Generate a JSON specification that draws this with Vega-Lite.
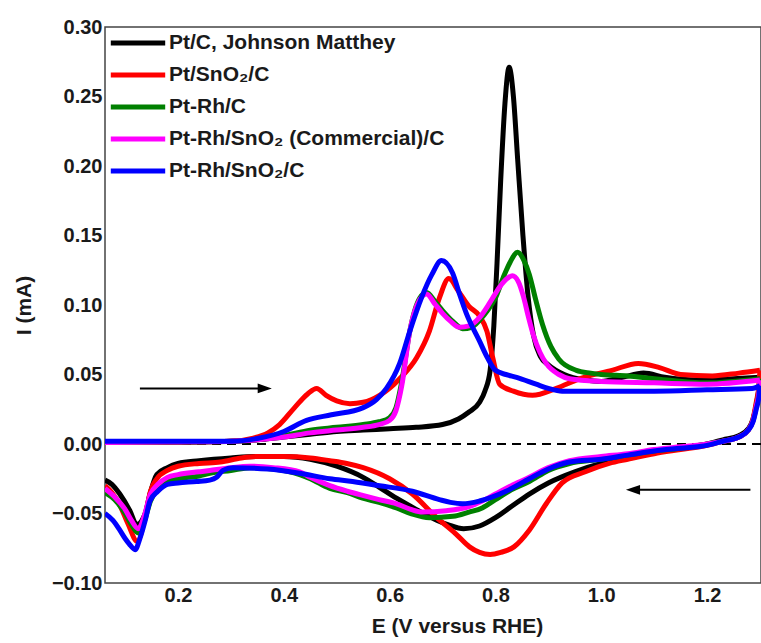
{
  "$schema": "https://vega.github.io/schema/vega-lite/v6.json",
  "autosize": {"type": "none"},
  "padding": {"left": 105, "top": 27, "right": 0, "bottom": 60},
  "width": 656,
  "height": 556,
  "background": "white",
  "config": {
    "view": {"stroke": "#444", "strokeWidth": 1.5},
    "font": "Liberation Sans",
    "axis": {
      "labelFont": "Liberation Sans", "labelFontWeight": "bold", "labelFontSize": 20, "labelColor": "#1a1a1a",
      "titleFont": "Liberation Sans", "titleFontWeight": "bold", "titleFontSize": 21, "titleColor": "#1a1a1a",
      "grid": false, "ticks": false, "domain": false
    },
    "legend": {
      "labelFont": "Liberation Sans", "labelFontWeight": "bold", "labelFontSize": 21, "labelColor": "#1a1a1a",
      "padding": 0, "labelLimit": 0
    }
  },
  "datasets": {
    "cv": [
      {"s":"Pt/C, Johnson Matthey","b":"a","x":0.062,"y":0.001},
      {"s":"Pt/C, Johnson Matthey","b":"a","x":0.15,"y":0.001},
      {"s":"Pt/C, Johnson Matthey","b":"a","x":0.25,"y":0.0015},
      {"s":"Pt/C, Johnson Matthey","b":"a","x":0.3,"y":0.002},
      {"s":"Pt/C, Johnson Matthey","b":"a","x":0.35,"y":0.003},
      {"s":"Pt/C, Johnson Matthey","b":"a","x":0.4,"y":0.005},
      {"s":"Pt/C, Johnson Matthey","b":"a","x":0.45,"y":0.007},
      {"s":"Pt/C, Johnson Matthey","b":"a","x":0.5,"y":0.009},
      {"s":"Pt/C, Johnson Matthey","b":"a","x":0.55,"y":0.010},
      {"s":"Pt/C, Johnson Matthey","b":"a","x":0.6,"y":0.011},
      {"s":"Pt/C, Johnson Matthey","b":"a","x":0.65,"y":0.012},
      {"s":"Pt/C, Johnson Matthey","b":"a","x":0.7,"y":0.014},
      {"s":"Pt/C, Johnson Matthey","b":"a","x":0.73,"y":0.018},
      {"s":"Pt/C, Johnson Matthey","b":"a","x":0.75,"y":0.023},
      {"s":"Pt/C, Johnson Matthey","b":"a","x":0.77,"y":0.030},
      {"s":"Pt/C, Johnson Matthey","b":"a","x":0.78,"y":0.038},
      {"s":"Pt/C, Johnson Matthey","b":"a","x":0.79,"y":0.053},
      {"s":"Pt/C, Johnson Matthey","b":"a","x":0.797,"y":0.085},
      {"s":"Pt/C, Johnson Matthey","b":"a","x":0.803,"y":0.13},
      {"s":"Pt/C, Johnson Matthey","b":"a","x":0.81,"y":0.19},
      {"s":"Pt/C, Johnson Matthey","b":"a","x":0.818,"y":0.245},
      {"s":"Pt/C, Johnson Matthey","b":"a","x":0.826,"y":0.271},
      {"s":"Pt/C, Johnson Matthey","b":"a","x":0.834,"y":0.25},
      {"s":"Pt/C, Johnson Matthey","b":"a","x":0.842,"y":0.205},
      {"s":"Pt/C, Johnson Matthey","b":"a","x":0.852,"y":0.15},
      {"s":"Pt/C, Johnson Matthey","b":"a","x":0.862,"y":0.105},
      {"s":"Pt/C, Johnson Matthey","b":"a","x":0.872,"y":0.078},
      {"s":"Pt/C, Johnson Matthey","b":"a","x":0.885,"y":0.063},
      {"s":"Pt/C, Johnson Matthey","b":"a","x":0.9,"y":0.057},
      {"s":"Pt/C, Johnson Matthey","b":"a","x":0.93,"y":0.050},
      {"s":"Pt/C, Johnson Matthey","b":"a","x":0.97,"y":0.046},
      {"s":"Pt/C, Johnson Matthey","b":"a","x":1.0,"y":0.045},
      {"s":"Pt/C, Johnson Matthey","b":"a","x":1.04,"y":0.048},
      {"s":"Pt/C, Johnson Matthey","b":"a","x":1.08,"y":0.051},
      {"s":"Pt/C, Johnson Matthey","b":"a","x":1.12,"y":0.048},
      {"s":"Pt/C, Johnson Matthey","b":"a","x":1.18,"y":0.046},
      {"s":"Pt/C, Johnson Matthey","b":"a","x":1.25,"y":0.047},
      {"s":"Pt/C, Johnson Matthey","b":"a","x":1.3,"y":0.048},
      {"s":"Pt/C, Johnson Matthey","b":"c","x":1.3,"y":0.048},
      {"s":"Pt/C, Johnson Matthey","b":"c","x":1.298,"y":0.040},
      {"s":"Pt/C, Johnson Matthey","b":"c","x":1.293,"y":0.028},
      {"s":"Pt/C, Johnson Matthey","b":"c","x":1.287,"y":0.018},
      {"s":"Pt/C, Johnson Matthey","b":"c","x":1.278,"y":0.011},
      {"s":"Pt/C, Johnson Matthey","b":"c","x":1.26,"y":0.006},
      {"s":"Pt/C, Johnson Matthey","b":"c","x":1.23,"y":0.003},
      {"s":"Pt/C, Johnson Matthey","b":"c","x":1.2,"y":0.0},
      {"s":"Pt/C, Johnson Matthey","b":"c","x":1.15,"y":-0.003},
      {"s":"Pt/C, Johnson Matthey","b":"c","x":1.1,"y":-0.006},
      {"s":"Pt/C, Johnson Matthey","b":"c","x":1.05,"y":-0.010},
      {"s":"Pt/C, Johnson Matthey","b":"c","x":1.0,"y":-0.014},
      {"s":"Pt/C, Johnson Matthey","b":"c","x":0.95,"y":-0.020},
      {"s":"Pt/C, Johnson Matthey","b":"c","x":0.9,"y":-0.028},
      {"s":"Pt/C, Johnson Matthey","b":"c","x":0.864,"y":-0.036},
      {"s":"Pt/C, Johnson Matthey","b":"c","x":0.83,"y":-0.045},
      {"s":"Pt/C, Johnson Matthey","b":"c","x":0.8,"y":-0.053},
      {"s":"Pt/C, Johnson Matthey","b":"c","x":0.77,"y":-0.059},
      {"s":"Pt/C, Johnson Matthey","b":"c","x":0.74,"y":-0.061},
      {"s":"Pt/C, Johnson Matthey","b":"c","x":0.71,"y":-0.058},
      {"s":"Pt/C, Johnson Matthey","b":"c","x":0.69,"y":-0.055},
      {"s":"Pt/C, Johnson Matthey","b":"c","x":0.65,"y":-0.047},
      {"s":"Pt/C, Johnson Matthey","b":"c","x":0.613,"y":-0.039},
      {"s":"Pt/C, Johnson Matthey","b":"c","x":0.58,"y":-0.031},
      {"s":"Pt/C, Johnson Matthey","b":"c","x":0.55,"y":-0.024},
      {"s":"Pt/C, Johnson Matthey","b":"c","x":0.5,"y":-0.016},
      {"s":"Pt/C, Johnson Matthey","b":"c","x":0.45,"y":-0.011},
      {"s":"Pt/C, Johnson Matthey","b":"c","x":0.4,"y":-0.009},
      {"s":"Pt/C, Johnson Matthey","b":"c","x":0.35,"y":-0.009},
      {"s":"Pt/C, Johnson Matthey","b":"c","x":0.3,"y":-0.010},
      {"s":"Pt/C, Johnson Matthey","b":"c","x":0.24,"y":-0.012},
      {"s":"Pt/C, Johnson Matthey","b":"c","x":0.2,"y":-0.014},
      {"s":"Pt/C, Johnson Matthey","b":"c","x":0.18,"y":-0.017},
      {"s":"Pt/C, Johnson Matthey","b":"c","x":0.16,"y":-0.022},
      {"s":"Pt/C, Johnson Matthey","b":"c","x":0.147,"y":-0.036},
      {"s":"Pt/C, Johnson Matthey","b":"c","x":0.138,"y":-0.050},
      {"s":"Pt/C, Johnson Matthey","b":"c","x":0.122,"y":-0.058},
      {"s":"Pt/C, Johnson Matthey","b":"c","x":0.109,"y":-0.048},
      {"s":"Pt/C, Johnson Matthey","b":"c","x":0.09,"y":-0.036},
      {"s":"Pt/C, Johnson Matthey","b":"c","x":0.075,"y":-0.029},
      {"s":"Pt/C, Johnson Matthey","b":"c","x":0.062,"y":-0.026},

      {"s":"Pt/SnO₂/C","b":"a","x":0.062,"y":0.001},
      {"s":"Pt/SnO₂/C","b":"a","x":0.2,"y":0.0015},
      {"s":"Pt/SnO₂/C","b":"a","x":0.3,"y":0.002},
      {"s":"Pt/SnO₂/C","b":"a","x":0.34,"y":0.004},
      {"s":"Pt/SnO₂/C","b":"a","x":0.37,"y":0.008},
      {"s":"Pt/SnO₂/C","b":"a","x":0.392,"y":0.014},
      {"s":"Pt/SnO₂/C","b":"a","x":0.42,"y":0.026},
      {"s":"Pt/SnO₂/C","b":"a","x":0.445,"y":0.036},
      {"s":"Pt/SnO₂/C","b":"a","x":0.462,"y":0.040},
      {"s":"Pt/SnO₂/C","b":"a","x":0.48,"y":0.035},
      {"s":"Pt/SnO₂/C","b":"a","x":0.5,"y":0.031},
      {"s":"Pt/SnO₂/C","b":"a","x":0.525,"y":0.029},
      {"s":"Pt/SnO₂/C","b":"a","x":0.55,"y":0.030},
      {"s":"Pt/SnO₂/C","b":"a","x":0.581,"y":0.035},
      {"s":"Pt/SnO₂/C","b":"a","x":0.619,"y":0.047},
      {"s":"Pt/SnO₂/C","b":"a","x":0.651,"y":0.062},
      {"s":"Pt/SnO₂/C","b":"a","x":0.675,"y":0.081},
      {"s":"Pt/SnO₂/C","b":"a","x":0.694,"y":0.105},
      {"s":"Pt/SnO₂/C","b":"a","x":0.712,"y":0.119},
      {"s":"Pt/SnO₂/C","b":"a","x":0.73,"y":0.110},
      {"s":"Pt/SnO₂/C","b":"a","x":0.75,"y":0.099},
      {"s":"Pt/SnO₂/C","b":"a","x":0.77,"y":0.092},
      {"s":"Pt/SnO₂/C","b":"a","x":0.784,"y":0.081},
      {"s":"Pt/SnO₂/C","b":"a","x":0.795,"y":0.062},
      {"s":"Pt/SnO₂/C","b":"a","x":0.808,"y":0.043},
      {"s":"Pt/SnO₂/C","b":"a","x":0.834,"y":0.038},
      {"s":"Pt/SnO₂/C","b":"a","x":0.87,"y":0.035},
      {"s":"Pt/SnO₂/C","b":"a","x":0.915,"y":0.040},
      {"s":"Pt/SnO₂/C","b":"a","x":0.96,"y":0.047},
      {"s":"Pt/SnO₂/C","b":"a","x":1.02,"y":0.053},
      {"s":"Pt/SnO₂/C","b":"a","x":1.07,"y":0.058},
      {"s":"Pt/SnO₂/C","b":"a","x":1.11,"y":0.055},
      {"s":"Pt/SnO₂/C","b":"a","x":1.15,"y":0.050},
      {"s":"Pt/SnO₂/C","b":"a","x":1.21,"y":0.049},
      {"s":"Pt/SnO₂/C","b":"a","x":1.26,"y":0.051},
      {"s":"Pt/SnO₂/C","b":"a","x":1.3,"y":0.053},
      {"s":"Pt/SnO₂/C","b":"c","x":1.3,"y":0.053},
      {"s":"Pt/SnO₂/C","b":"c","x":1.298,"y":0.042},
      {"s":"Pt/SnO₂/C","b":"c","x":1.293,"y":0.030},
      {"s":"Pt/SnO₂/C","b":"c","x":1.287,"y":0.018},
      {"s":"Pt/SnO₂/C","b":"c","x":1.278,"y":0.010},
      {"s":"Pt/SnO₂/C","b":"c","x":1.26,"y":0.005},
      {"s":"Pt/SnO₂/C","b":"c","x":1.23,"y":0.002},
      {"s":"Pt/SnO₂/C","b":"c","x":1.2,"y":-0.001},
      {"s":"Pt/SnO₂/C","b":"c","x":1.15,"y":-0.004},
      {"s":"Pt/SnO₂/C","b":"c","x":1.1,"y":-0.007},
      {"s":"Pt/SnO₂/C","b":"c","x":1.05,"y":-0.011},
      {"s":"Pt/SnO₂/C","b":"c","x":1.015,"y":-0.014},
      {"s":"Pt/SnO₂/C","b":"c","x":0.97,"y":-0.020},
      {"s":"Pt/SnO₂/C","b":"c","x":0.926,"y":-0.028},
      {"s":"Pt/SnO₂/C","b":"c","x":0.896,"y":-0.043},
      {"s":"Pt/SnO₂/C","b":"c","x":0.864,"y":-0.062},
      {"s":"Pt/SnO₂/C","b":"c","x":0.835,"y":-0.074},
      {"s":"Pt/SnO₂/C","b":"c","x":0.81,"y":-0.078},
      {"s":"Pt/SnO₂/C","b":"c","x":0.79,"y":-0.0795},
      {"s":"Pt/SnO₂/C","b":"c","x":0.77,"y":-0.078},
      {"s":"Pt/SnO₂/C","b":"c","x":0.751,"y":-0.074},
      {"s":"Pt/SnO₂/C","b":"c","x":0.726,"y":-0.065},
      {"s":"Pt/SnO₂/C","b":"c","x":0.689,"y":-0.053},
      {"s":"Pt/SnO₂/C","b":"c","x":0.643,"y":-0.036},
      {"s":"Pt/SnO₂/C","b":"c","x":0.6,"y":-0.025},
      {"s":"Pt/SnO₂/C","b":"c","x":0.55,"y":-0.017},
      {"s":"Pt/SnO₂/C","b":"c","x":0.519,"y":-0.014},
      {"s":"Pt/SnO₂/C","b":"c","x":0.487,"y":-0.012},
      {"s":"Pt/SnO₂/C","b":"c","x":0.45,"y":-0.010},
      {"s":"Pt/SnO₂/C","b":"c","x":0.4,"y":-0.009},
      {"s":"Pt/SnO₂/C","b":"c","x":0.35,"y":-0.009},
      {"s":"Pt/SnO₂/C","b":"c","x":0.32,"y":-0.010},
      {"s":"Pt/SnO₂/C","b":"c","x":0.28,"y":-0.013},
      {"s":"Pt/SnO₂/C","b":"c","x":0.24,"y":-0.014},
      {"s":"Pt/SnO₂/C","b":"c","x":0.2,"y":-0.016},
      {"s":"Pt/SnO₂/C","b":"c","x":0.18,"y":-0.019},
      {"s":"Pt/SnO₂/C","b":"c","x":0.16,"y":-0.025},
      {"s":"Pt/SnO₂/C","b":"c","x":0.148,"y":-0.034},
      {"s":"Pt/SnO₂/C","b":"c","x":0.138,"y":-0.052},
      {"s":"Pt/SnO₂/C","b":"c","x":0.123,"y":-0.070},
      {"s":"Pt/SnO₂/C","b":"c","x":0.105,"y":-0.057},
      {"s":"Pt/SnO₂/C","b":"c","x":0.09,"y":-0.044},
      {"s":"Pt/SnO₂/C","b":"c","x":0.075,"y":-0.035},
      {"s":"Pt/SnO₂/C","b":"c","x":0.062,"y":-0.030},

      {"s":"Pt-Rh/C","b":"a","x":0.062,"y":0.001},
      {"s":"Pt-Rh/C","b":"a","x":0.2,"y":0.0015},
      {"s":"Pt-Rh/C","b":"a","x":0.3,"y":0.002},
      {"s":"Pt-Rh/C","b":"a","x":0.35,"y":0.003},
      {"s":"Pt-Rh/C","b":"a","x":0.4,"y":0.006},
      {"s":"Pt-Rh/C","b":"a","x":0.45,"y":0.010},
      {"s":"Pt-Rh/C","b":"a","x":0.5,"y":0.012},
      {"s":"Pt-Rh/C","b":"a","x":0.55,"y":0.014},
      {"s":"Pt-Rh/C","b":"a","x":0.58,"y":0.016},
      {"s":"Pt-Rh/C","b":"a","x":0.6,"y":0.019},
      {"s":"Pt-Rh/C","b":"a","x":0.612,"y":0.026},
      {"s":"Pt-Rh/C","b":"a","x":0.623,"y":0.045},
      {"s":"Pt-Rh/C","b":"a","x":0.638,"y":0.081},
      {"s":"Pt-Rh/C","b":"a","x":0.657,"y":0.105},
      {"s":"Pt-Rh/C","b":"a","x":0.67,"y":0.109},
      {"s":"Pt-Rh/C","b":"a","x":0.685,"y":0.103},
      {"s":"Pt-Rh/C","b":"a","x":0.70,"y":0.096},
      {"s":"Pt-Rh/C","b":"a","x":0.72,"y":0.088},
      {"s":"Pt-Rh/C","b":"a","x":0.738,"y":0.083},
      {"s":"Pt-Rh/C","b":"a","x":0.755,"y":0.084},
      {"s":"Pt-Rh/C","b":"a","x":0.77,"y":0.089},
      {"s":"Pt-Rh/C","b":"a","x":0.785,"y":0.096},
      {"s":"Pt-Rh/C","b":"a","x":0.80,"y":0.105},
      {"s":"Pt-Rh/C","b":"a","x":0.815,"y":0.120},
      {"s":"Pt-Rh/C","b":"a","x":0.828,"y":0.131},
      {"s":"Pt-Rh/C","b":"a","x":0.842,"y":0.138},
      {"s":"Pt-Rh/C","b":"a","x":0.854,"y":0.132},
      {"s":"Pt-Rh/C","b":"a","x":0.864,"y":0.122},
      {"s":"Pt-Rh/C","b":"a","x":0.876,"y":0.104},
      {"s":"Pt-Rh/C","b":"a","x":0.889,"y":0.086},
      {"s":"Pt-Rh/C","b":"a","x":0.905,"y":0.070},
      {"s":"Pt-Rh/C","b":"a","x":0.92,"y":0.061},
      {"s":"Pt-Rh/C","b":"a","x":0.953,"y":0.053},
      {"s":"Pt-Rh/C","b":"a","x":0.98,"y":0.051},
      {"s":"Pt-Rh/C","b":"a","x":1.0,"y":0.050},
      {"s":"Pt-Rh/C","b":"a","x":1.05,"y":0.049},
      {"s":"Pt-Rh/C","b":"a","x":1.1,"y":0.047},
      {"s":"Pt-Rh/C","b":"a","x":1.2,"y":0.044},
      {"s":"Pt-Rh/C","b":"a","x":1.3,"y":0.047},
      {"s":"Pt-Rh/C","b":"c","x":1.3,"y":0.047},
      {"s":"Pt-Rh/C","b":"c","x":1.298,"y":0.038},
      {"s":"Pt-Rh/C","b":"c","x":1.293,"y":0.027},
      {"s":"Pt-Rh/C","b":"c","x":1.287,"y":0.017},
      {"s":"Pt-Rh/C","b":"c","x":1.278,"y":0.010},
      {"s":"Pt-Rh/C","b":"c","x":1.26,"y":0.005},
      {"s":"Pt-Rh/C","b":"c","x":1.23,"y":0.002},
      {"s":"Pt-Rh/C","b":"c","x":1.2,"y":0.0},
      {"s":"Pt-Rh/C","b":"c","x":1.15,"y":-0.003},
      {"s":"Pt-Rh/C","b":"c","x":1.1,"y":-0.005},
      {"s":"Pt-Rh/C","b":"c","x":1.05,"y":-0.008},
      {"s":"Pt-Rh/C","b":"c","x":1.0,"y":-0.011},
      {"s":"Pt-Rh/C","b":"c","x":0.94,"y":-0.014},
      {"s":"Pt-Rh/C","b":"c","x":0.9,"y":-0.019},
      {"s":"Pt-Rh/C","b":"c","x":0.864,"y":-0.027},
      {"s":"Pt-Rh/C","b":"c","x":0.83,"y":-0.033},
      {"s":"Pt-Rh/C","b":"c","x":0.80,"y":-0.040},
      {"s":"Pt-Rh/C","b":"c","x":0.775,"y":-0.046},
      {"s":"Pt-Rh/C","b":"c","x":0.75,"y":-0.049},
      {"s":"Pt-Rh/C","b":"c","x":0.72,"y":-0.052},
      {"s":"Pt-Rh/C","b":"c","x":0.675,"y":-0.053},
      {"s":"Pt-Rh/C","b":"c","x":0.64,"y":-0.050},
      {"s":"Pt-Rh/C","b":"c","x":0.613,"y":-0.046},
      {"s":"Pt-Rh/C","b":"c","x":0.58,"y":-0.042},
      {"s":"Pt-Rh/C","b":"c","x":0.549,"y":-0.039},
      {"s":"Pt-Rh/C","b":"c","x":0.52,"y":-0.035},
      {"s":"Pt-Rh/C","b":"c","x":0.487,"y":-0.032},
      {"s":"Pt-Rh/C","b":"c","x":0.45,"y":-0.025},
      {"s":"Pt-Rh/C","b":"c","x":0.43,"y":-0.022},
      {"s":"Pt-Rh/C","b":"c","x":0.38,"y":-0.018},
      {"s":"Pt-Rh/C","b":"c","x":0.336,"y":-0.017},
      {"s":"Pt-Rh/C","b":"c","x":0.3,"y":-0.019},
      {"s":"Pt-Rh/C","b":"c","x":0.26,"y":-0.021},
      {"s":"Pt-Rh/C","b":"c","x":0.24,"y":-0.023},
      {"s":"Pt-Rh/C","b":"c","x":0.2,"y":-0.025},
      {"s":"Pt-Rh/C","b":"c","x":0.18,"y":-0.027},
      {"s":"Pt-Rh/C","b":"c","x":0.162,"y":-0.032},
      {"s":"Pt-Rh/C","b":"c","x":0.148,"y":-0.041},
      {"s":"Pt-Rh/C","b":"c","x":0.136,"y":-0.056},
      {"s":"Pt-Rh/C","b":"c","x":0.125,"y":-0.064},
      {"s":"Pt-Rh/C","b":"c","x":0.112,"y":-0.058},
      {"s":"Pt-Rh/C","b":"c","x":0.1,"y":-0.050},
      {"s":"Pt-Rh/C","b":"c","x":0.08,"y":-0.040},
      {"s":"Pt-Rh/C","b":"c","x":0.062,"y":-0.035},

      {"s":"Pt-Rh/SnO₂ (Commercial)/C","b":"a","x":0.062,"y":0.001},
      {"s":"Pt-Rh/SnO₂ (Commercial)/C","b":"a","x":0.2,"y":0.0015},
      {"s":"Pt-Rh/SnO₂ (Commercial)/C","b":"a","x":0.3,"y":0.002},
      {"s":"Pt-Rh/SnO₂ (Commercial)/C","b":"a","x":0.35,"y":0.003},
      {"s":"Pt-Rh/SnO₂ (Commercial)/C","b":"a","x":0.4,"y":0.005},
      {"s":"Pt-Rh/SnO₂ (Commercial)/C","b":"a","x":0.45,"y":0.008},
      {"s":"Pt-Rh/SnO₂ (Commercial)/C","b":"a","x":0.5,"y":0.010},
      {"s":"Pt-Rh/SnO₂ (Commercial)/C","b":"a","x":0.55,"y":0.012},
      {"s":"Pt-Rh/SnO₂ (Commercial)/C","b":"a","x":0.58,"y":0.014},
      {"s":"Pt-Rh/SnO₂ (Commercial)/C","b":"a","x":0.6,"y":0.017},
      {"s":"Pt-Rh/SnO₂ (Commercial)/C","b":"a","x":0.612,"y":0.024},
      {"s":"Pt-Rh/SnO₂ (Commercial)/C","b":"a","x":0.623,"y":0.042},
      {"s":"Pt-Rh/SnO₂ (Commercial)/C","b":"a","x":0.638,"y":0.081},
      {"s":"Pt-Rh/SnO₂ (Commercial)/C","b":"a","x":0.657,"y":0.104},
      {"s":"Pt-Rh/SnO₂ (Commercial)/C","b":"a","x":0.67,"y":0.108},
      {"s":"Pt-Rh/SnO₂ (Commercial)/C","b":"a","x":0.685,"y":0.101},
      {"s":"Pt-Rh/SnO₂ (Commercial)/C","b":"a","x":0.70,"y":0.094},
      {"s":"Pt-Rh/SnO₂ (Commercial)/C","b":"a","x":0.716,"y":0.088},
      {"s":"Pt-Rh/SnO₂ (Commercial)/C","b":"a","x":0.732,"y":0.084},
      {"s":"Pt-Rh/SnO₂ (Commercial)/C","b":"a","x":0.75,"y":0.085},
      {"s":"Pt-Rh/SnO₂ (Commercial)/C","b":"a","x":0.77,"y":0.091},
      {"s":"Pt-Rh/SnO₂ (Commercial)/C","b":"a","x":0.79,"y":0.102},
      {"s":"Pt-Rh/SnO₂ (Commercial)/C","b":"a","x":0.808,"y":0.113},
      {"s":"Pt-Rh/SnO₂ (Commercial)/C","b":"a","x":0.822,"y":0.119},
      {"s":"Pt-Rh/SnO₂ (Commercial)/C","b":"a","x":0.832,"y":0.121},
      {"s":"Pt-Rh/SnO₂ (Commercial)/C","b":"a","x":0.843,"y":0.117},
      {"s":"Pt-Rh/SnO₂ (Commercial)/C","b":"a","x":0.853,"y":0.106},
      {"s":"Pt-Rh/SnO₂ (Commercial)/C","b":"a","x":0.862,"y":0.092},
      {"s":"Pt-Rh/SnO₂ (Commercial)/C","b":"a","x":0.872,"y":0.078},
      {"s":"Pt-Rh/SnO₂ (Commercial)/C","b":"a","x":0.884,"y":0.066},
      {"s":"Pt-Rh/SnO₂ (Commercial)/C","b":"a","x":0.896,"y":0.058},
      {"s":"Pt-Rh/SnO₂ (Commercial)/C","b":"a","x":0.92,"y":0.050},
      {"s":"Pt-Rh/SnO₂ (Commercial)/C","b":"a","x":0.94,"y":0.047},
      {"s":"Pt-Rh/SnO₂ (Commercial)/C","b":"a","x":1.0,"y":0.045},
      {"s":"Pt-Rh/SnO₂ (Commercial)/C","b":"a","x":1.1,"y":0.044},
      {"s":"Pt-Rh/SnO₂ (Commercial)/C","b":"a","x":1.2,"y":0.043},
      {"s":"Pt-Rh/SnO₂ (Commercial)/C","b":"a","x":1.3,"y":0.046},
      {"s":"Pt-Rh/SnO₂ (Commercial)/C","b":"c","x":1.3,"y":0.046},
      {"s":"Pt-Rh/SnO₂ (Commercial)/C","b":"c","x":1.298,"y":0.037},
      {"s":"Pt-Rh/SnO₂ (Commercial)/C","b":"c","x":1.293,"y":0.027},
      {"s":"Pt-Rh/SnO₂ (Commercial)/C","b":"c","x":1.287,"y":0.017},
      {"s":"Pt-Rh/SnO₂ (Commercial)/C","b":"c","x":1.278,"y":0.010},
      {"s":"Pt-Rh/SnO₂ (Commercial)/C","b":"c","x":1.26,"y":0.005},
      {"s":"Pt-Rh/SnO₂ (Commercial)/C","b":"c","x":1.23,"y":0.002},
      {"s":"Pt-Rh/SnO₂ (Commercial)/C","b":"c","x":1.2,"y":0.0},
      {"s":"Pt-Rh/SnO₂ (Commercial)/C","b":"c","x":1.15,"y":-0.002},
      {"s":"Pt-Rh/SnO₂ (Commercial)/C","b":"c","x":1.1,"y":-0.004},
      {"s":"Pt-Rh/SnO₂ (Commercial)/C","b":"c","x":1.05,"y":-0.007},
      {"s":"Pt-Rh/SnO₂ (Commercial)/C","b":"c","x":1.0,"y":-0.009},
      {"s":"Pt-Rh/SnO₂ (Commercial)/C","b":"c","x":0.94,"y":-0.012},
      {"s":"Pt-Rh/SnO₂ (Commercial)/C","b":"c","x":0.9,"y":-0.017},
      {"s":"Pt-Rh/SnO₂ (Commercial)/C","b":"c","x":0.864,"y":-0.024},
      {"s":"Pt-Rh/SnO₂ (Commercial)/C","b":"c","x":0.83,"y":-0.030},
      {"s":"Pt-Rh/SnO₂ (Commercial)/C","b":"c","x":0.80,"y":-0.036},
      {"s":"Pt-Rh/SnO₂ (Commercial)/C","b":"c","x":0.775,"y":-0.041},
      {"s":"Pt-Rh/SnO₂ (Commercial)/C","b":"c","x":0.75,"y":-0.045},
      {"s":"Pt-Rh/SnO₂ (Commercial)/C","b":"c","x":0.707,"y":-0.048},
      {"s":"Pt-Rh/SnO₂ (Commercial)/C","b":"c","x":0.662,"y":-0.049},
      {"s":"Pt-Rh/SnO₂ (Commercial)/C","b":"c","x":0.64,"y":-0.047},
      {"s":"Pt-Rh/SnO₂ (Commercial)/C","b":"c","x":0.613,"y":-0.043},
      {"s":"Pt-Rh/SnO₂ (Commercial)/C","b":"c","x":0.58,"y":-0.040},
      {"s":"Pt-Rh/SnO₂ (Commercial)/C","b":"c","x":0.549,"y":-0.037},
      {"s":"Pt-Rh/SnO₂ (Commercial)/C","b":"c","x":0.52,"y":-0.034},
      {"s":"Pt-Rh/SnO₂ (Commercial)/C","b":"c","x":0.487,"y":-0.030},
      {"s":"Pt-Rh/SnO₂ (Commercial)/C","b":"c","x":0.45,"y":-0.024},
      {"s":"Pt-Rh/SnO₂ (Commercial)/C","b":"c","x":0.43,"y":-0.020},
      {"s":"Pt-Rh/SnO₂ (Commercial)/C","b":"c","x":0.38,"y":-0.017},
      {"s":"Pt-Rh/SnO₂ (Commercial)/C","b":"c","x":0.336,"y":-0.016},
      {"s":"Pt-Rh/SnO₂ (Commercial)/C","b":"c","x":0.3,"y":-0.017},
      {"s":"Pt-Rh/SnO₂ (Commercial)/C","b":"c","x":0.26,"y":-0.019},
      {"s":"Pt-Rh/SnO₂ (Commercial)/C","b":"c","x":0.24,"y":-0.020},
      {"s":"Pt-Rh/SnO₂ (Commercial)/C","b":"c","x":0.2,"y":-0.022},
      {"s":"Pt-Rh/SnO₂ (Commercial)/C","b":"c","x":0.18,"y":-0.024},
      {"s":"Pt-Rh/SnO₂ (Commercial)/C","b":"c","x":0.162,"y":-0.029},
      {"s":"Pt-Rh/SnO₂ (Commercial)/C","b":"c","x":0.148,"y":-0.036},
      {"s":"Pt-Rh/SnO₂ (Commercial)/C","b":"c","x":0.136,"y":-0.052},
      {"s":"Pt-Rh/SnO₂ (Commercial)/C","b":"c","x":0.125,"y":-0.061},
      {"s":"Pt-Rh/SnO₂ (Commercial)/C","b":"c","x":0.112,"y":-0.055},
      {"s":"Pt-Rh/SnO₂ (Commercial)/C","b":"c","x":0.1,"y":-0.047},
      {"s":"Pt-Rh/SnO₂ (Commercial)/C","b":"c","x":0.08,"y":-0.038},
      {"s":"Pt-Rh/SnO₂ (Commercial)/C","b":"c","x":0.062,"y":-0.032},

      {"s":"Pt-Rh/SnO₂/C","b":"a","x":0.062,"y":0.002},
      {"s":"Pt-Rh/SnO₂/C","b":"a","x":0.2,"y":0.002},
      {"s":"Pt-Rh/SnO₂/C","b":"a","x":0.3,"y":0.002},
      {"s":"Pt-Rh/SnO₂/C","b":"a","x":0.35,"y":0.004},
      {"s":"Pt-Rh/SnO₂/C","b":"a","x":0.4,"y":0.009},
      {"s":"Pt-Rh/SnO₂/C","b":"a","x":0.443,"y":0.017},
      {"s":"Pt-Rh/SnO₂/C","b":"a","x":0.49,"y":0.021},
      {"s":"Pt-Rh/SnO₂/C","b":"a","x":0.549,"y":0.026},
      {"s":"Pt-Rh/SnO₂/C","b":"a","x":0.575,"y":0.032},
      {"s":"Pt-Rh/SnO₂/C","b":"a","x":0.594,"y":0.040},
      {"s":"Pt-Rh/SnO₂/C","b":"a","x":0.619,"y":0.058},
      {"s":"Pt-Rh/SnO₂/C","b":"a","x":0.638,"y":0.081},
      {"s":"Pt-Rh/SnO₂/C","b":"a","x":0.66,"y":0.105},
      {"s":"Pt-Rh/SnO₂/C","b":"a","x":0.68,"y":0.122},
      {"s":"Pt-Rh/SnO₂/C","b":"a","x":0.698,"y":0.132},
      {"s":"Pt-Rh/SnO₂/C","b":"a","x":0.719,"y":0.123},
      {"s":"Pt-Rh/SnO₂/C","b":"a","x":0.732,"y":0.108},
      {"s":"Pt-Rh/SnO₂/C","b":"a","x":0.745,"y":0.094},
      {"s":"Pt-Rh/SnO₂/C","b":"a","x":0.77,"y":0.074},
      {"s":"Pt-Rh/SnO₂/C","b":"a","x":0.785,"y":0.062},
      {"s":"Pt-Rh/SnO₂/C","b":"a","x":0.80,"y":0.053},
      {"s":"Pt-Rh/SnO₂/C","b":"a","x":0.82,"y":0.050},
      {"s":"Pt-Rh/SnO₂/C","b":"a","x":0.84,"y":0.048},
      {"s":"Pt-Rh/SnO₂/C","b":"a","x":0.877,"y":0.043},
      {"s":"Pt-Rh/SnO₂/C","b":"a","x":0.9,"y":0.040},
      {"s":"Pt-Rh/SnO₂/C","b":"a","x":0.926,"y":0.038},
      {"s":"Pt-Rh/SnO₂/C","b":"a","x":1.0,"y":0.038},
      {"s":"Pt-Rh/SnO₂/C","b":"a","x":1.1,"y":0.038},
      {"s":"Pt-Rh/SnO₂/C","b":"a","x":1.2,"y":0.039},
      {"s":"Pt-Rh/SnO₂/C","b":"a","x":1.285,"y":0.040},
      {"s":"Pt-Rh/SnO₂/C","b":"a","x":1.3,"y":0.042},
      {"s":"Pt-Rh/SnO₂/C","b":"c","x":1.3,"y":0.042},
      {"s":"Pt-Rh/SnO₂/C","b":"c","x":1.298,"y":0.034},
      {"s":"Pt-Rh/SnO₂/C","b":"c","x":1.293,"y":0.025},
      {"s":"Pt-Rh/SnO₂/C","b":"c","x":1.287,"y":0.016},
      {"s":"Pt-Rh/SnO₂/C","b":"c","x":1.278,"y":0.010},
      {"s":"Pt-Rh/SnO₂/C","b":"c","x":1.26,"y":0.005},
      {"s":"Pt-Rh/SnO₂/C","b":"c","x":1.23,"y":0.002},
      {"s":"Pt-Rh/SnO₂/C","b":"c","x":1.2,"y":-0.001},
      {"s":"Pt-Rh/SnO₂/C","b":"c","x":1.15,"y":-0.003},
      {"s":"Pt-Rh/SnO₂/C","b":"c","x":1.1,"y":-0.005},
      {"s":"Pt-Rh/SnO₂/C","b":"c","x":1.05,"y":-0.008},
      {"s":"Pt-Rh/SnO₂/C","b":"c","x":1.0,"y":-0.011},
      {"s":"Pt-Rh/SnO₂/C","b":"c","x":0.94,"y":-0.013},
      {"s":"Pt-Rh/SnO₂/C","b":"c","x":0.9,"y":-0.018},
      {"s":"Pt-Rh/SnO₂/C","b":"c","x":0.864,"y":-0.025},
      {"s":"Pt-Rh/SnO₂/C","b":"c","x":0.82,"y":-0.034},
      {"s":"Pt-Rh/SnO₂/C","b":"c","x":0.77,"y":-0.041},
      {"s":"Pt-Rh/SnO₂/C","b":"c","x":0.738,"y":-0.043},
      {"s":"Pt-Rh/SnO₂/C","b":"c","x":0.715,"y":-0.042},
      {"s":"Pt-Rh/SnO₂/C","b":"c","x":0.694,"y":-0.040},
      {"s":"Pt-Rh/SnO₂/C","b":"c","x":0.643,"y":-0.034},
      {"s":"Pt-Rh/SnO₂/C","b":"c","x":0.581,"y":-0.030},
      {"s":"Pt-Rh/SnO₂/C","b":"c","x":0.53,"y":-0.027},
      {"s":"Pt-Rh/SnO₂/C","b":"c","x":0.487,"y":-0.025},
      {"s":"Pt-Rh/SnO₂/C","b":"c","x":0.43,"y":-0.021},
      {"s":"Pt-Rh/SnO₂/C","b":"c","x":0.37,"y":-0.018},
      {"s":"Pt-Rh/SnO₂/C","b":"c","x":0.304,"y":-0.017},
      {"s":"Pt-Rh/SnO₂/C","b":"c","x":0.285,"y":-0.019},
      {"s":"Pt-Rh/SnO₂/C","b":"c","x":0.273,"y":-0.024},
      {"s":"Pt-Rh/SnO₂/C","b":"c","x":0.26,"y":-0.026},
      {"s":"Pt-Rh/SnO₂/C","b":"c","x":0.235,"y":-0.027},
      {"s":"Pt-Rh/SnO₂/C","b":"c","x":0.2,"y":-0.028},
      {"s":"Pt-Rh/SnO₂/C","b":"c","x":0.18,"y":-0.029},
      {"s":"Pt-Rh/SnO₂/C","b":"c","x":0.162,"y":-0.034},
      {"s":"Pt-Rh/SnO₂/C","b":"c","x":0.147,"y":-0.041},
      {"s":"Pt-Rh/SnO₂/C","b":"c","x":0.138,"y":-0.055},
      {"s":"Pt-Rh/SnO₂/C","b":"c","x":0.128,"y":-0.068},
      {"s":"Pt-Rh/SnO₂/C","b":"c","x":0.119,"y":-0.076},
      {"s":"Pt-Rh/SnO₂/C","b":"c","x":0.108,"y":-0.072},
      {"s":"Pt-Rh/SnO₂/C","b":"c","x":0.1,"y":-0.068},
      {"s":"Pt-Rh/SnO₂/C","b":"c","x":0.09,"y":-0.062},
      {"s":"Pt-Rh/SnO₂/C","b":"c","x":0.077,"y":-0.055},
      {"s":"Pt-Rh/SnO₂/C","b":"c","x":0.062,"y":-0.050}
    ],
    "arrows": [
      {"x": 0.128, "x2": 0.362, "y": 0.040},
      {"x": 1.282, "x2": 1.062, "y": -0.033}
    ],
    "heads": [
      {"x": 0.364, "y": 0.040, "shape": "M-1,-0.7L1,0L-1,0.7Z"},
      {"x": 1.060, "y": -0.033, "shape": "M1,-0.7L-1,0L1,0.7Z"}
    ]
  },
  "layer": [
    {
      "data": {"values": [{"y": 0}]},
      "mark": {"type": "rule", "strokeDash": [9, 6], "strokeWidth": 2, "color": "#000"},
      "encoding": {
        "y": {"field": "y", "type": "quantitative", "scale": {"domain": [-0.1, 0.3], "nice": false, "zero": false},
              "title": "I (mA)",
              "axis": {"values": [-0.1, -0.05, 0, 0.05, 0.1, 0.15, 0.2, 0.25, 0.3], "format": ".2f", "labelPadding": 3, "titlePadding": 17}}
      }
    },
    {
      "data": {"name": "arrows"},
      "mark": {"type": "rule", "strokeWidth": 2, "color": "#000"},
      "encoding": {
        "x": {"field": "x", "type": "quantitative"},
        "x2": {"field": "x2"},
        "y": {"field": "y", "type": "quantitative"}
      }
    },
    {
      "data": {"name": "heads"},
      "mark": {"type": "point", "filled": true, "color": "#000", "size": 200, "opacity": 1},
      "encoding": {
        "x": {"field": "x", "type": "quantitative"},
        "y": {"field": "y", "type": "quantitative"},
        "shape": {"field": "shape", "type": "nominal", "scale": null}
      }
    },
    {
      "data": {"name": "cv"},
      "mark": {"type": "line", "strokeWidth": 5, "interpolate": "monotone", "clip": true},
      "encoding": {
        "x": {"field": "x", "type": "quantitative", "scale": {"domain": [0.062, 1.302], "nice": false, "zero": false},
              "title": "E (V versus RHE)",
              "axis": {"values": [0.2, 0.4, 0.6, 0.8, 1.0, 1.2], "format": ".1f", "labelPadding": 2, "titlePadding": 10, "titleX": 352}},
        "y": {"field": "y", "type": "quantitative"},
        "detail": {"field": "b"},
        "color": {
          "field": "s", "type": "nominal",
          "scale": {
            "domain": ["Pt/C, Johnson Matthey", "Pt/SnO₂/C", "Pt-Rh/C", "Pt-Rh/SnO₂ (Commercial)/C", "Pt-Rh/SnO₂/C"],
            "range": ["#000000", "#ff0000", "#008000", "#ff00ff", "#0000ff"]
          },
          "legend": {
            "title": null, "orient": "none", "legendX": 22, "legendY": 5,
            "symbolType": "M-3.2,0H3.2", "symbolSize": 289, "symbolStrokeWidth": 5,
            "labelOffset": 20, "rowPadding": 11
          }
        }
      }
    }
  ]
}
